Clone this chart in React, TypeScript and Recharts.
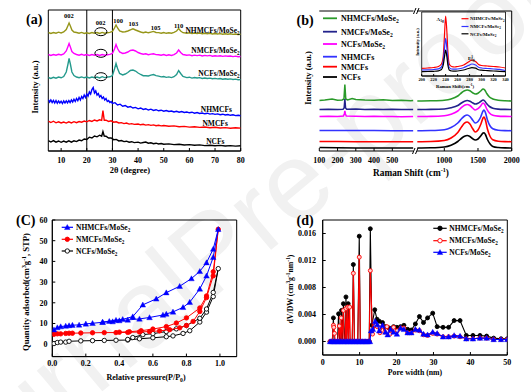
import React from 'react';
import {
  LineChart, Line, XAxis, YAxis, ScatterChart, Scatter,
  ReferenceLine, ReferenceDot, ReferenceArea,
} from 'recharts';

const FONT = '"Liberation Serif", "Times New Roman", serif';

// ---------- (a) XRD: [2theta, intensity a.u.] ----------
const aTicks = [10, 20, 30, 40, 50, 60, 70, 80];
const xrdNHMCFsMoSe2 = [[5,118.5],[6,117.5],[7,118.5],[8,117.8],[9,118.8],[10,118],[11,119],[12,121.5],[12.6,125],[13.1,128],[13.6,125],[14.2,121],[15,119],[16,118.5],[17,117.8],[18,118.6],[19,117.6],[20,118.3],[21,117.6],[22,118.5],[23,117.8],[24,118.5],[25,117.6],[26,118.6],[27,117.8],[28,118.3],[29,118.6],[30,119.5],[30.8,123],[31.4,126],[32,123],[32.8,120],[34,119],[35,119.3],[36,120],[37,121.2],[38,122.2],[39,121],[40,120],[41,119],[42,118.3],[43,119],[44,118.2],[45,118.9],[46,119.6],[47,118.5],[48,118.4],[49,117.8],[50,118.5],[51,117.7],[52,118.3],[53,117.8],[54,118.6],[55,120],[55.8,122.5],[56.6,120],[57.5,118.3],[59,117.7],[60,118.2],[61,117.4],[62,118],[63,117.5],[64,118],[65,117.2],[66,117.8],[67,117.2],[68,117.7],[69,117],[70,117.5],[71,117],[72,117.4],[73,116.8],[74,117.3],[75,116.8],[76,117.2],[77,116.6],[78,117],[79,116.5],[80,116.8]];
const xrdNMCFsMoSe2 = [[5,96.5],[6,95.6],[7,96.5],[8,95.8],[9,96.7],[10,96],[11,97],[12,100],[12.6,104],[13.1,107.5],[13.6,104],[14.2,99.5],[15,97.5],[16,96.5],[17,95.8],[18,96.7],[19,95.7],[20,96.4],[21,95.6],[22,96.5],[23,95.8],[24,96.4],[25,95.6],[26,96.5],[27,95.8],[28,96.3],[29,96.6],[30,97.5],[30.8,102],[31.4,106.5],[32,102.5],[32.8,99],[34,97.5],[35,98],[36,99],[37,100.5],[38,101],[39,100],[40,98.5],[41,97.5],[42,96.8],[43,97.2],[44,96.3],[45,96.9],[46,97.2],[47,96.4],[48,96.3],[49,95.8],[50,96.4],[51,95.6],[52,96.2],[53,95.6],[54,96.4],[55,98],[55.8,101],[56.6,98.5],[57.5,96.5],[59,95.7],[60,96.1],[61,95.3],[62,95.9],[63,95.4],[64,95.9],[65,95],[66,95.6],[67,95.1],[68,95.6],[69,94.8],[70,95.3],[71,94.9],[72,95.3],[73,94.6],[74,95.1],[75,94.7],[76,95],[77,94.4],[78,94.9],[79,94.3],[80,94.5]];
const xrdNCFsMoSe2 = [[5,73.5],[6,72.6],[7,73.7],[8,72.8],[9,73.9],[10,73.2],[11,74.5],[12,79],[12.6,86],[13.1,92.5],[13.6,87],[14.2,79],[15,75.5],[16,74],[17,73.3],[18,74.1],[19,73.2],[20,73.9],[21,73],[22,74],[23,73.3],[24,73.9],[25,73.1],[26,74.3],[27,73.4],[28,73.9],[29,74.2],[30,75.5],[30.8,82],[31.4,87.5],[32,82.5],[32.8,77.5],[34,76],[35,77],[36,78.5],[37,80.5],[38,81],[39,80],[40,78],[41,76.5],[42,75.3],[43,75.2],[44,75],[45,75.9],[46,76.4],[47,75.4],[48,74.9],[49,74.1],[50,74.5],[51,73.6],[52,74.1],[53,73.4],[54,74.3],[55,76.5],[55.8,80.5],[56.6,77.5],[57.5,74.5],[59,73.4],[60,73.8],[61,72.9],[62,73.5],[63,73],[64,73.4],[65,72.5],[66,73],[67,72.5],[68,72.9],[69,72.2],[70,72.6],[71,72.1],[72,72.5],[73,71.8],[74,72.3],[75,71.8],[76,72.1],[77,71.5],[78,71.9],[79,71.2],[80,71.4]];
const xrdNHMCFs = [[5,51.5],[5.5,49],[6,51],[6.5,48.5],[7,50.5],[7.5,48],[8,50.5],[8.5,47.8],[9,50],[9.5,48],[10,49.8],[10.5,47.5],[11,50],[11.5,48],[12,50.2],[12.5,48.2],[13,50.5],[13.5,48.5],[14,51],[14.5,49],[15,51.8],[15.5,49.5],[16,52.5],[16.5,50.3],[17,53.5],[17.5,51],[18,54.5],[18.5,52.5],[19,56],[19.5,53.5],[20,57],[20.5,55],[21,59],[21.5,57],[22,61.5],[22.5,63.5],[23,58],[23.5,60],[24,56],[24.5,57.5],[25,54],[25.5,55.5],[26,52.5],[26.5,54],[27,51],[27.5,52.5],[28,49.5],[28.5,50.5],[29,48.5],[29.5,49.5],[30,47.5],[31,48.3],[32,46],[33,46.8],[34,44.8],[35,45.5],[36,43.8],[37,44.5],[38,43],[39,43.6],[40,42.2],[41,43],[42,41.6],[43,42.3],[44,41],[45,41.8],[46,40.6],[47,41.3],[48,40.2],[49,40.8],[50,39.8],[51,40.5],[52,39.5],[53,40],[54,39],[55,39.7],[56,38.8],[57,39.4],[58,38.5],[59,39],[60,38.2],[61,38.8],[62,37.8],[63,38.4],[64,37.5],[65,38],[66,37.2],[67,37.8],[68,36.9],[69,37.4],[70,36.6],[71,37.1],[72,36.3],[73,36.8],[74,36],[75,36.5],[76,35.7],[77,36.2],[78,35.4],[79,35.8],[80,35.2]];
const xrdNMCFs = [[5,30],[6,28.5],[7,29.8],[8,28.2],[9,29.2],[10,28],[11,29],[12,27.9],[13,29.2],[14,28.1],[15,29.3],[16,28.3],[17,29.5],[18,28.8],[19,30],[20,29.2],[21,30.5],[22,29.6],[23,31],[24,30],[25,31.2],[25.8,30.6],[26.3,40.5],[26.8,30.8],[27.5,30.8],[28.5,29.6],[29.5,30.2],[30.5,28.8],[31.5,29.2],[32.5,28],[33.5,28.4],[34.5,27.4],[35.5,27.9],[36.5,26.9],[37.5,27.4],[38.5,26.6],[40,27],[41,26.2],[42,26.7],[43,25.9],[44,26.4],[45,25.6],[46,26.1],[47,25.3],[48,25.8],[49,25.1],[50,25.5],[52,24.8],[54,25.1],[56,24.3],[58,24.6],[60,23.9],[62,24.3],[64,23.6],[66,24],[68,23.3],[70,23.7],[72,23],[74,23.4],[76,22.8],[78,23.2],[80,22.9]];
const xrdNCFs = [[5,10.5],[6,9],[7,10.4],[8,8.8],[9,10],[10,8.7],[11,9.9],[12,8.8],[13,10.1],[14,8.9],[15,10.2],[16,9.4],[17,10.9],[18,10.2],[19,12],[20,11.5],[21,13.8],[22,13],[23,15],[24,14.2],[25,15.8],[25.8,14.8],[26.3,19.5],[26.8,15],[27.5,14.8],[28.5,13],[29.5,13],[30.5,11.3],[31.5,11.6],[32.5,10.1],[33.5,10.5],[34.5,9.4],[35.5,9.8],[36.5,8.8],[37.5,9.3],[38.5,8.4],[40,8.9],[41,7.9],[42,8.5],[43,9],[44,7.8],[45,8.2],[46,7.3],[47,7.8],[48,7],[49,7.5],[50,6.8],[52,7.1],[54,6.4],[56,6.8],[58,6],[60,6.4],[62,5.7],[64,6.1],[66,5.4],[68,5.8],[70,5.2],[72,5.6],[74,5],[76,5.4],[78,4.9],[80,5.2]];
const aPeakLabels = [[13, 134.8, '002'], [25.4, 128.2, '002'], [32.2, 130.5, '100'], [38.2, 127.2, '103'], [46.8, 123, '105'], [55.8, 125.5, '110']];
const aCircles = [[25.5, 119.3], [25.5, 97.7], [25.5, 74.3]];
const aSeriesNames = [[79.6, 121, 'NHMCFs/MoSe', '2'], [79.6, 100.7, 'NMCFs/MoSe', '2'], [79.6, 77.7, 'NCFs/MoSe', '2'], [76.6, 41.5, 'NHMCFs', ''], [75, 27.7, 'NMCFs', ''], [73.7, 9.5, 'NCFs', '']];

// ---------- (b) Raman ----------
const bLeftTicks = [100, 200, 300, 400, 500];
const bRightTicks = [1000, 1500, 2000];
const ramanLowNHMCFsMoSe2 = [[100,50.5],[130,51],[170,52],[200,50.8],[225,51],[235,52],[240,66.5],[245,52],[255,51],[280,52.5],[300,51.5],[350,51],[400,50.8],[450,51.2],[500,50.5],[550,50.8],[600,50.3],[615,50.5]];
const ramanLowNMCFsMoSe2 = [[100,41.5],[150,41.8],[200,41.5],[230,41.8],[236,43],[240,52],[244,43],[250,41.8],[300,42],[350,41.6],[400,41.8],[450,41.5],[500,41.7],[550,41.4],[615,41.5]];
const ramanLowNCFsMoSe2 = [[100,34.5],[150,34.8],[200,34.6],[232,35],[237,37],[240,40],[243,37],[248,35],[300,34.8],[350,34.5],[400,34.7],[450,34.4],[500,34.6],[550,34.3],[615,34.5]];
const ramanLowNHMCFs = [[100,20.5],[200,20.6],[300,20.4],[400,20.5],[500,20.3],[615,20.3]];
const ramanLowNMCFs = [[100,9.5],[200,9.4],[300,9.3],[400,9.3],[500,9.2],[615,9.2]];
const ramanLowNCFs = [[100,3.5],[200,3.2],[300,3],[400,3],[500,3],[615,3]];
const ramanHighNHMCFsMoSe2 = [[600,50],[800,50.2],[1000,50.8],[1100,52],[1200,55],[1260,58.5],[1300,60.2],[1340,61],[1380,60.2],[1420,58.3],[1460,57],[1500,57.8],[1540,60],[1575,62],[1600,61],[1630,57.5],[1670,54],[1720,52],[1800,50.8],[1900,50.2],[2000,50]];
const ramanHighNMCFsMoSe2 = [[600,41.5],[800,41.6],[1000,42],[1100,43.2],[1200,45.5],[1260,48.3],[1300,49.8],[1340,50.5],[1380,49.8],[1420,48.2],[1460,47],[1500,47.8],[1540,49.5],[1575,51],[1600,50],[1630,47.2],[1670,44.5],[1720,42.8],[1800,41.9],[1900,41.6],[2000,41.5]];
const ramanHighNCFsMoSe2 = [[600,34.5],[800,34.6],[1000,35.2],[1100,36.8],[1200,40],[1260,43.8],[1300,45.8],[1340,46.5],[1380,45.5],[1420,43],[1460,41],[1500,42.3],[1540,45],[1575,48],[1600,46.5],[1630,42],[1670,38],[1720,35.8],[1800,34.9],[1900,34.6],[2000,34.5]];
const ramanHighNHMCFs = [[600,20.3],[800,20.5],[1000,21.3],[1100,23.5],[1200,28],[1260,32.5],[1300,35],[1340,36],[1380,34.5],[1420,31],[1460,28],[1500,29.5],[1540,34],[1575,40],[1590,41],[1610,38.5],[1640,31],[1680,25],[1720,22.3],[1800,20.8],[1900,20.4],[2000,20.3]];
const ramanHighNMCFs = [[600,9.3],[800,9.5],[1000,10.5],[1100,13],[1200,18.5],[1260,24.5],[1300,27.8],[1340,29],[1380,27],[1420,22.5],[1460,19],[1500,21],[1540,26.5],[1575,33],[1590,34],[1610,31],[1640,22],[1680,14.5],[1720,11.2],[1800,9.8],[1900,9.4],[2000,9.3]];
const ramanHighNCFs = [[600,3],[800,3.2],[1000,4],[1100,5.8],[1200,9.5],[1260,13],[1300,14.8],[1340,15.5],[1380,14.5],[1420,12.3],[1460,11],[1500,12],[1540,15],[1575,18],[1590,18.3],[1610,16.5],[1640,11.5],[1680,7],[1720,4.6],[1800,3.5],[1900,3.1],[2000,3]];
// inset
const insetTicks = [200, 220, 240, 260, 280, 300, 320, 340];
const insetNHMCFsMoSe2 = [[200,7.7],[210,8],[220,8.5],[228,9.5],[233,12],[236,20],[238,40],[240,60],[242,45],[244,22],[246,12],[250,9.5],[255,9],[260,9.5],[270,11],[278,14],[284,16],[290,14.5],[295,11.5],[300,10.5],[310,10],[320,9.5],[330,9],[340,8]];
const insetNMCFsMoSe2 = [[200,6],[210,6.2],[220,6.5],[228,7.2],[233,9],[236,15],[238,27],[240,37.7],[242,28],[244,14],[246,8.5],[250,7],[255,6.8],[260,7],[270,8.3],[278,10.5],[284,12],[290,11],[295,8.8],[300,8],[310,7.5],[320,7],[330,6.6],[340,5.5]];
const insetNCFsMoSe2 = [[200,4.3],[210,4.5],[220,4.7],[228,5.2],[233,6.5],[236,11],[238,19],[240,26],[242,19.5],[244,10],[246,6],[250,5],[255,4.8],[260,5],[270,6],[278,7.5],[284,8.3],[290,7.8],[295,6.3],[300,5.8],[310,5.4],[320,5],[330,4.7],[340,4.3]];

// ---------- (c) isotherms: [P/P0, quantity] adsorption then desorption ----------
const cXTicks = [0, 0.2, 0.4, 0.6, 0.8, 1.0];
const cYTicks = [0, 10, 20, 30, 40, 50, 60];
const isoNHMCFsMoSe2 = [[0.01,7],[0.03,8],[0.05,8.5],[0.08,8.8],[0.1,9],[0.12,9.2],[0.16,9.3],[0.2,9.8],[0.24,10.1],[0.3,10.6],[0.36,10.9],[0.4,11.4],[0.45,11.7],[0.52,12.2],[0.58,12.9],[0.66,14.1],[0.68,14.6],[0.72,15.6],[0.78,17.8],[0.82,20.3],[0.88,26.7],[0.92,33],[0.96,42],[0.99,55.5],[0.96,46],[0.92,39.4],[0.88,35.2],[0.83,31.7],[0.76,28],[0.68,24.9],[0.62,21.9],[0.54,19],[0.48,13.3],[0.42,12],[0.38,11.6],[0.34,11.1],[0.3,10.7]];
const isoNMCFsMoSe2 = [[0.01,4.8],[0.03,5],[0.05,5],[0.08,5.2],[0.1,5.3],[0.12,5.3],[0.17,5.4],[0.24,5.5],[0.31,5.6],[0.38,5.6],[0.45,5.7],[0.52,5.9],[0.58,6.1],[0.64,6.4],[0.7,7],[0.76,7.9],[0.8,9],[0.84,11],[0.88,15.8],[0.92,22.5],[0.96,33],[0.99,55.5],[0.96,35],[0.92,23.3],[0.88,17.5],[0.8,12.7],[0.74,10.2],[0.68,8.5],[0.6,7.3],[0.53,6.5],[0.46,6],[0.4,5.8]];
const isoNCFsMoSe2 = [[0.01,0.3],[0.03,0.8],[0.05,1],[0.08,1],[0.1,1.4],[0.17,1.6],[0.24,1.7],[0.31,1.8],[0.38,1.9],[0.45,2],[0.52,2.6],[0.6,3.1],[0.68,3.6],[0.72,4],[0.78,5.2],[0.82,6.5],[0.88,10.7],[0.92,15.5],[0.96,23],[0.99,36.5],[0.96,25],[0.92,17],[0.88,12.5],[0.8,9],[0.74,7.4],[0.68,6.1],[0.6,5.1],[0.54,4.6],[0.48,3.2],[0.45,2.3]];

// ---------- (d) pore size distribution: [nm, dV/dW] ----------
const dXTicks = [0, 10, 20, 30, 40, 50];
const dYTicks = [0, 0.004, 0.008, 0.012, 0.016];
const psdNHMCFsMoSe2 = [[2,0],[2.3,0],[2.6,0],[2.9,0.0035],[3.1,0],[3.4,0],[3.7,0],[4.0,0],[4.3,0.0041],[4.6,0],[4.9,0],[5.1,0.0046],[5.3,0],[5.6,0.0056],[5.9,0],[6.1,0],[6.3,0.0066],[6.5,0],[6.9,0.0056],[7.1,0],[7.4,0],[7.7,0],[8.0,0],[8.3,0.0114],[8.6,0],[8.9,0],[9.2,0],[9.5,0],[9.9,0.0156],[10.2,0],[10.5,0],[10.8,0],[11.1,0],[11.4,0],[11.7,0],[12.0,0],[12.3,0],[12.6,0],[12.9,0.0167],[13.3,0.0024],[14.1,0.0047],[14.7,0.0033],[15.3,0.003],[16.2,0.0028],[17.0,0.0022],[18.0,0.002],[19.2,0.0022],[20.1,0.0021],[21.1,0.0022],[22.0,0.0024],[23.0,0.0018],[24.0,0.0017],[25.1,0.0026],[26.2,0.0037],[27.3,0.0028],[28.4,0.0035],[29.8,0.0042],[31.0,0.0022],[32.6,0.0021],[34.1,0.0021],[35.6,0.0031],[37.2,0.0031],[38.9,0.0009],[40.7,0.0009],[42.6,0.0009],[44.4,0.0008],[46.3,0.0005],[48.3,0.0004],[50,0.0004]];
const psdNMCFsMoSe2 = [[2,0],[2.3,0],[2.6,0],[2.9,0.0024],[3.0,0.0021],[3.2,0.0012],[3.4,0],[3.7,0],[4.0,0],[4.5,0.0023],[4.7,0],[5.0,0.0035],[5.2,0],[5.6,0.0046],[5.8,0],[6.1,0],[6.3,0.0049],[6.5,0],[6.8,0.0051],[7.0,0],[7.3,0.0051],[7.5,0],[7.8,0],[8.0,0],[8.3,0.0101],[8.6,0],[8.9,0],[9.2,0],[9.5,0],[9.9,0.0125],[10.2,0],[10.5,0],[10.8,0],[11.1,0],[11.4,0],[11.7,0],[12.0,0],[12.3,0],[12.6,0],[12.9,0.0105],[13.5,0.0011],[14.2,0.0024],[14.8,0.0022],[15.5,0.0013],[16.2,0.0022],[16.8,0.0014],[17.4,0.0022],[18.2,0.0011],[19.2,0.0021],[20.2,0.0016],[21.2,0.002],[22.0,0.002],[23.0,0.0013],[24.0,0.0013],[25.1,0.0017],[26.2,0.0016],[27.3,0.001],[28.4,0.0009],[29.8,0.0012],[31.0,0.0011],[32.6,0.0007],[34.1,0.0007],[35.6,0.0008],[37.2,0.0007],[38.9,0.0004],[40.7,0.0004],[42.6,0.0005],[44.4,0.0005],[46.3,0.0003],[48.3,0.0003],[50,0.0003]];
const psdNCFsMoSe2 = [[2,0],[2.4,0],[2.8,0],[3.2,0],[3.6,0],[4.0,0],[4.4,0],[4.8,0],[5.2,0],[5.6,0],[6.0,0],[6.4,0],[6.8,0],[7.2,0],[7.6,0],[8.0,0],[8.4,0],[8.8,0],[9.2,0],[9.6,0],[10.0,0],[10.4,0],[10.8,0],[11.2,0],[11.6,0],[12.0,0],[12.4,0],[12.8,0],[13.1,0.0016],[13.6,0.0018],[14.2,0.003],[14.8,0.0025],[15.3,0.0016],[16.2,0.0024],[17.0,0.0014],[17.6,0.001],[18.4,0.0018],[19.2,0.0014],[20.1,0.0011],[21.1,0.002],[22.0,0.0018],[23.0,0.0013],[24.0,0.0013],[25.1,0.0018],[26.2,0.0017],[27.3,0.0011],[28.4,0.001],[29.8,0.0014],[31.0,0.0012],[32.6,0.0007],[34.1,0.0007],[35.6,0.0009],[37.2,0.0008],[38.9,0.0004],[40.7,0.0004],[42.6,0.0005],[44.4,0.0005],[46.3,0.0003],[48.3,0.0003],[50,0.0003]];

// ---------- colours ----------
const OLIVE = '#96961a';
const MAGENTA = '#ff00ff';
const TEAL = '#249a8c';
const BLUE = '#0000ff';
const RED = '#ff0000';
const BLACK = '#000000';
const GREEN = '#2a9a2a';
const NAVY = '#23238c';
const RBLUE = '#3333ff';

const pts = (a: any[]) => a.map((p) => ({ x: p[0], y: p[1] }));
const tickStyle = (fs: number) => ({ fontSize: fs, fontFamily: FONT, fontWeight: 700, fill: '#000' });

const wrap = (left: number, top: number, child: React.ReactNode) => (
  <div style={{ position: 'absolute', left, top }}>{child}</div>
);

function PanelA() {
  const series = [
    [xrdNHMCFsMoSe2, OLIVE], [xrdNMCFsMoSe2, MAGENTA], [xrdNCFsMoSe2, TEAL],
    [xrdNHMCFs, BLUE], [xrdNMCFs, RED], [xrdNCFs, BLACK],
  ] as any[];
  return wrap(0, 0,
    <LineChart width={250} height={170} margin={{ top: 10, right: 9.3, bottom: 0, left: 48.3 }}>
      <XAxis dataKey="x" type="number" domain={[5, 80]} ticks={aTicks} interval={0} height={19}
        tickSize={-3} tickMargin={9} tick={tickStyle(8)} stroke="#000" allowDataOverflow />
      <YAxis type="number" domain={[0, 141]} width={0} tick={false} tickLine={false} stroke="#000" allowDataOverflow />
      <ReferenceArea x1={5} x2={80} y1={0} y2={141} fill="none" stroke="#000" ifOverflow="visible" />
      <ReferenceLine x={20} stroke="#000" strokeWidth={1} />
      <ReferenceLine x={30} stroke="#000" strokeWidth={1} />
      {series.map((s, i) => (
        <Line key={i} data={pts(s[0])} dataKey="y" type="linear" stroke={s[1]} strokeWidth={1.4}
          dot={false} isAnimationActive={false} />
      ))}
      {aCircles.map((c, i) => (
        <ReferenceDot key={'c' + i} x={c[0]} y={c[1]} r={5} ifOverflow="visible"
          shape={(p: any) => <ellipse cx={p.cx} cy={p.cy} rx={6} ry={4} fill="none" stroke="#000" strokeWidth={1} />} />
      ))}
      {aPeakLabels.map((l, i) => (
        <ReferenceDot key={'p' + i} x={l[0] as number} y={l[1] as number} r={1} ifOverflow="visible"
          shape={(p: any) => <text x={p.cx} y={p.cy} dy="0.35em" textAnchor="middle" fontFamily={FONT} fontWeight={700} fontSize={6.5} fill="#000">{l[2]}</text>} />
      ))}
      {aSeriesNames.map((l, i) => (
        <ReferenceDot key={'n' + i} x={l[0] as number} y={l[1] as number} r={1} ifOverflow="visible"
          shape={(p: any) => (
            <text x={p.cx} y={p.cy} dy="0.35em" textAnchor="end" fontFamily={FONT} fontWeight={700} fontSize={7.5} fill="#000">
              {l[2]}{l[3] ? <tspan dy={2} fontSize={5.2}>{l[3]}</tspan> : null}
            </text>
          )} />
      ))}
    </LineChart>
  );
}

function PanelB() {
  const low = [
    [ramanLowNHMCFsMoSe2, GREEN], [ramanLowNMCFsMoSe2, NAVY], [ramanLowNCFsMoSe2, MAGENTA],
    [ramanLowNHMCFs, RBLUE], [ramanLowNMCFs, RED], [ramanLowNCFs, BLACK],
  ] as any[];
  const high = [
    [ramanHighNHMCFsMoSe2, GREEN], [ramanHighNMCFsMoSe2, NAVY], [ramanHighNCFsMoSe2, MAGENTA],
    [ramanHighNHMCFs, RBLUE], [ramanHighNMCFs, RED], [ramanHighNCFs, BLACK],
  ] as any[];
  const inset = [[insetNHMCFsMoSe2, RED], [insetNMCFsMoSe2, RBLUE], [insetNCFsMoSe2, BLACK]] as any[];
  return (
    <>
      {wrap(265, 0,
        <LineChart width={150} height={170} margin={{ top: 11, right: 1.5, bottom: 0, left: 54.3 }}>
          <XAxis dataKey="x" type="number" domain={[100, 616]} ticks={bLeftTicks} interval={0} height={19}
            tickSize={-3} tickMargin={9} tick={tickStyle(8)} stroke="#000" allowDataOverflow />
          <YAxis type="number" domain={[0, 140]} width={0} tick={false} tickLine={false} stroke="#000" allowDataOverflow />
          <ReferenceLine y={140} stroke="#000" ifOverflow="visible" />
          {low.map((s, i) => (
            <Line key={i} data={pts(s[0])} dataKey="y" type="linear" stroke={s[1]} strokeWidth={1.5}
              dot={false} isAnimationActive={false} />
          ))}
        </LineChart>
      )}
      {wrap(415, 0,
        <LineChart width={110} height={170} margin={{ top: 11, right: 13.3, bottom: 0, left: 2 }}>
          <XAxis dataKey="x" type="number" domain={[595, 2000]} ticks={bRightTicks} interval={0} height={19}
            tickSize={-3} tickMargin={9} tick={tickStyle(8)} stroke="#000" allowDataOverflow />
          <YAxis type="number" domain={[0, 140]} hide allowDataOverflow />
          <ReferenceLine y={140} stroke="#000" ifOverflow="visible" />
          <ReferenceLine x={2000} stroke="#000" ifOverflow="visible" />
          {high.map((s, i) => (
            <Line key={i} data={pts(s[0])} dataKey="y" type="monotone" stroke={s[1]} strokeWidth={1.6}
              dot={false} isAnimationActive={false} />
          ))}
        </LineChart>
      )}
      {wrap(405, 0,
        <LineChart width={115} height={95} margin={{ top: 12, right: 14.5, bottom: 0, left: 16.7 }}>
          <XAxis dataKey="x" type="number" domain={[200, 340]} ticks={insetTicks} interval={0} height={19}
            tickSize={-2} tickMargin={4.3} tick={tickStyle(4.4)} stroke="#000" allowDataOverflow />
          <YAxis type="number" domain={[0, 64]} width={0} tick={false} tickLine={false} stroke="#000" allowDataOverflow />
          <ReferenceArea x1={200} x2={340} y1={0} y2={64} fill="none" stroke="#000" strokeWidth={0.8} ifOverflow="visible" />
          {inset.map((s, i) => (
            <Line key={i} data={pts(s[0])} dataKey="y" type="monotone" stroke={s[1]} strokeWidth={1.2}
              dot={false} isAnimationActive={false} />
          ))}
        </LineChart>
      )}
    </>
  );
}

const triShape = (color: string) => (p: any) => {
  const s = 2.8;
  return <path d={`M${p.cx},${p.cy - s}L${p.cx + s},${p.cy + s * 0.8}L${p.cx - s},${p.cy + s * 0.8}Z`} fill={color} stroke={color} strokeWidth={0.4} />;
};
const circShape = (fill: string, stroke: string, r = 2.2) => (p: any) => (
  <circle cx={p.cx} cy={p.cy} r={r} fill={fill} stroke={stroke} strokeWidth={0.9} />
);

function PanelC() {
  return wrap(0, 200,
    <ScatterChart width={250} height={192} margin={{ top: 20, right: 13.3, bottom: 0, left: 0 }}>
      <XAxis dataKey="x" type="number" domain={[0, 1.1]} ticks={cXTicks} interval={0} height={35.4}
        tickFormatter={(v: number) => v.toFixed(1)} tickSize={-3} tickMargin={7} tick={tickStyle(8)} stroke="#000" allowDataOverflow />
      <YAxis dataKey="y" type="number" domain={[-6, 60]} ticks={cYTicks} interval={0} width={52.3}
        tickSize={-3} tickMargin={7.8} tick={tickStyle(8)} stroke="#000" allowDataOverflow />
      <ReferenceArea x1={0} x2={1.1} y1={-6} y2={60} fill="none" stroke="#000" ifOverflow="visible" />
      <Scatter data={pts(isoNCFsMoSe2)} line={{ stroke: BLACK, strokeWidth: 1 }} lineType="joint"
        shape={circShape('#ffffff', BLACK)} isAnimationActive={false} />
      <Scatter data={pts(isoNMCFsMoSe2)} line={{ stroke: RED, strokeWidth: 1 }} lineType="joint"
        shape={circShape(RED, RED)} isAnimationActive={false} />
      <Scatter data={pts(isoNHMCFsMoSe2)} line={{ stroke: BLUE, strokeWidth: 1 }} lineType="joint"
        shape={triShape(BLUE)} isAnimationActive={false} />
    </ScatterChart>
  );
}

function PanelD() {
  return wrap(265, 200,
    <ScatterChart width={266} height={192} margin={{ top: 20, right: 23.7, bottom: 0, left: 0 }}>
      <XAxis dataKey="x" type="number" domain={[0, 50]} ticks={dXTicks} interval={0} height={37}
        tickSize={-3} tickMargin={7} tick={tickStyle(8)} stroke="#000" allowDataOverflow />
      <YAxis dataKey="y" type="number" domain={[-0.002, 0.018]} ticks={dYTicks} interval={0} width={57.7}
        tickFormatter={(v: number) => v.toFixed(3)} tickSize={-3} tickMargin={9.7} tick={tickStyle(8)} stroke="#000" allowDataOverflow />
      <ReferenceArea x1={0} x2={50} y1={-0.002} y2={0.018} fill="none" stroke="#000" ifOverflow="visible" />
      <Scatter data={pts(psdNHMCFsMoSe2)} line={{ stroke: BLACK, strokeWidth: 1.1 }} lineType="joint"
        shape={circShape(BLACK, BLACK, 2)} isAnimationActive={false} />
      <Scatter data={pts(psdNMCFsMoSe2)} line={{ stroke: RED, strokeWidth: 1.1 }} lineType="joint"
        shape={circShape('#ffd0d0', RED, 2)} isAnimationActive={false} />
      <Scatter data={pts(psdNCFsMoSe2)} line={{ stroke: BLUE, strokeWidth: 1.1 }} lineType="joint"
        shape={triShape(BLUE)} isAnimationActive={false} />
    </ScatterChart>
  );
}

const bLegend = [
  ['NHMCFs/MoSe', '2', GREEN, 18.3], ['NMCFs/MoSe', '2', NAVY, 31.7], ['NCFs/MoSe', '2', MAGENTA, 44],
  ['NHMCFs', '', RBLUE, 56.7], ['NMCFs', '', RED, 66.7], ['NCFs', '', BLACK, 77],
] as any[];
const insetLegend = [['NHMCFs/MoSe', '2', RED, 18.7], ['NMCFs/MoSe', '2', RBLUE, 26.5], ['NCFs/MoSe', '2', BLACK, 33.8]] as any[];
const cLegend = [['NHMCFs/MoSe', '2', 'tri', BLUE, 227.3], ['NMCFs/MoSe', '2', 'dot', RED, 239.3], ['NCFs/MoSe', '2', 'open', BLACK, 251]] as any[];
const dLegend = [['NHMCFs/MoSe', '2', 'dot', BLACK, 228.3], ['NMCFs/MoSe', '2', 'open', RED, 240.7], ['NCFs/MoSe', '2', 'tri', BLUE, 252.3]] as any[];

function Txt(props: any) {
  return <text fontFamily={FONT} fontWeight={700} fill="#000" {...props} />;
}

function Marker({ kind, color, x, y }: any) {
  if (kind === 'tri') return triShape(color)({ cx: x, cy: y });
  if (kind === 'dot') return circShape(color, color, 2.2)({ cx: x, cy: y });
  return circShape('#ffffff', color, 2.2)({ cx: x, cy: y });
}

function Overlay() {
  return (
    <svg width={531} height={392} style={{ position: 'absolute', left: 0, top: 0, pointerEvents: 'none' }}>
      {/* panel labels */}
      <Txt x={26} y={24} fontSize={14}>(a)</Txt>
      <Txt x={296.5} y={25} fontSize={14}>(b)</Txt>
      <Txt x={16} y={224.5} fontSize={14}>(C)</Txt>
      <Txt x={296.5} y={224.5} fontSize={14}>(d)</Txt>

      {/* (a) titles */}
      <Txt x={38} y={87} fontSize={8.5} textAnchor="middle" transform="rotate(-90 38 87)">Intensity (a.u.)</Txt>
      <Txt x={130} y={172.5} fontSize={8.5} textAnchor="middle">2θ (degree)</Txt>

      {/* (b) titles */}
      <Txt x={310.8} y={78} fontSize={8.6} textAnchor="middle" transform="rotate(-90 310.8 78)">Intensity (a.u.)</Txt>
      <Txt x={411} y={175.5} fontSize={9.3} textAnchor="middle">Raman Shift (cm<tspan dy={-3.5} fontSize={6.2}>-1</tspan><tspan dy={3.5}>)</tspan></Txt>
      {/* break marks */}
      <line x1={413.5} y1={14} x2={416} y2={8} stroke="#000" strokeWidth={1} />
      <line x1={416.5} y1={14} x2={419} y2={8} stroke="#000" strokeWidth={1} />
      <line x1={412.5} y1={154} x2={415} y2={148} stroke="#000" strokeWidth={1} />
      <line x1={415.5} y1={154} x2={418} y2={148} stroke="#000" strokeWidth={1} />
      {bLegend.map((l, i) => (
        <g key={i}>
          <line x1={323} x2={337} y1={l[3]} y2={l[3]} stroke={l[2]} strokeWidth={1.8} />
          <Txt x={341} y={l[3] + 2.8} fontSize={8}>{l[0]}{l[1] ? <tspan dy={2} fontSize={5.6}>{l[1]}</tspan> : null}</Txt>
        </g>
      ))}
      {/* inset texts */}
      <Txt x={419} y={42} fontSize={4.4} textAnchor="middle" transform="rotate(-90 419 42)">Intensity (a.u.)</Txt>
      <Txt x={455} y={87.5} fontSize={4.8} textAnchor="middle">Raman Shift(cm<tspan dy={-1.8} fontSize={3.4}>-1</tspan><tspan dy={1.8}>)</tspan></Txt>
      <Txt x={436.5} y={21} fontSize={5}>A<tspan dy={1.2} fontSize={3.5}>1g</tspan></Txt>
      <Txt x={468} y={60} fontSize={5}>E<tspan dy={-2} fontSize={3.5}>1</tspan><tspan dy={3.2} dx={-2} fontSize={3.5}>2g</tspan></Txt>
      {insetLegend.map((l, i) => (
        <g key={i}>
          <line x1={461.5} x2={468.5} y1={l[3]} y2={l[3]} stroke={l[2]} strokeWidth={1.2} />
          <Txt x={470} y={l[3] + 1.7} fontSize={4.8}>{l[0]}<tspan dy={1.2} fontSize={3.4}>{l[1]}</tspan></Txt>
        </g>
      ))}

      {/* (c) titles + legend */}
      <Txt x={29} y={292} fontSize={8.6} textAnchor="middle" transform="rotate(-90 29 292)">
        Quantity adsorbed(cm<tspan dy={-3} fontSize={5.8}>3</tspan><tspan dy={3}>g</tspan><tspan dy={-3} fontSize={5.8}>-1</tspan><tspan dy={3}>, STP)</tspan>
      </Txt>
      <Txt x={146} y={379.5} fontSize={8} textAnchor="middle">Relative pressure(P/P<tspan dy={2} fontSize={5.6}>0</tspan><tspan dy={-2}>)</tspan></Txt>
      {cLegend.map((l, i) => (
        <g key={i}>
          <line x1={61.7} x2={73} y1={l[4]} y2={l[4]} stroke={l[3]} strokeWidth={1.2} />
          <Marker kind={l[2]} color={l[3]} x={67.3} y={l[4]} />
          <Txt x={76} y={l[4] + 2.6} fontSize={7.5}>{l[0]}<tspan dy={2} fontSize={5.2}>{l[1]}</tspan></Txt>
        </g>
      ))}

      {/* (d) titles + legend */}
      <Txt x={293} y={289} fontSize={7.8} textAnchor="middle" transform="rotate(-90 293 289)">
        dV/DW (cm<tspan dy={-3} fontSize={5.4}>3</tspan><tspan dy={3}>g</tspan><tspan dy={-3} fontSize={5.4}>-1</tspan><tspan dy={3}>nm</tspan><tspan dy={-3} fontSize={5.4}>-1</tspan><tspan dy={3}>)</tspan>
      </Txt>
      <Txt x={415} y={375} fontSize={7.8} textAnchor="middle">Pore width (nm)</Txt>
      {dLegend.map((l, i) => (
        <g key={i}>
          <line x1={433.3} x2={446.7} y1={l[4]} y2={l[4]} stroke={l[3]} strokeWidth={1.2} />
          <Marker kind={l[2]} color={l[3]} x={440} y={l[4]} />
          <Txt x={449.3} y={l[4] + 2.6} fontSize={7.5}>{l[0]}<tspan dy={2} fontSize={5.2}>{l[1]}</tspan></Txt>
        </g>
      ))}
    </svg>
  );
}

function Watermark() {
  return (
    <svg width={531} height={392} style={{ position: 'absolute', left: 0, top: 0 }}>
      <g transform="rotate(-40 209 302)" fontFamily='"Liberation Sans", Arial, sans-serif' fontSize={110} fill="#f1f1f1">
        <text x={209} y={302} textAnchor="end">Journal </text>
        <text x={209} y={302}>Pre-proof</text>
      </g>
    </svg>
  );
}

export default function App() {
  return (
    <div style={{ position: 'absolute', left: 0, top: 0, width: 531, height: 392, background: '#fff', overflow: 'hidden' }}>
      <Watermark />
      <PanelA />
      <PanelB />
      <PanelC />
      <PanelD />
      <Overlay />
    </div>
  );
}
